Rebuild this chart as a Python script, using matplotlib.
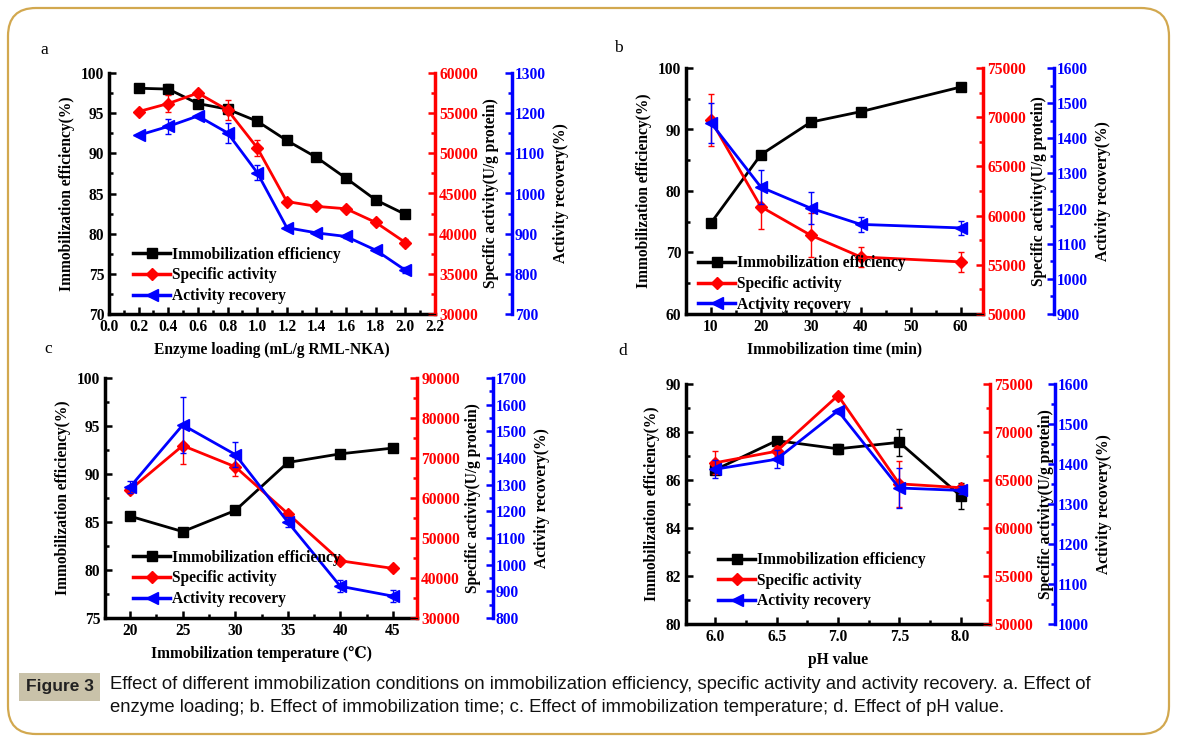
import numpy as np
import matplotlib
matplotlib.use("Agg")
import matplotlib.pyplot as plt
from matplotlib.patches import FancyBboxPatch
from matplotlib.lines import Line2D
from matplotlib.ticker import MultipleLocator

plt.rcParams['font.family'] = ['Liberation Serif', 'DejaVu Serif']
plt.rcParams['font.weight'] = 'bold'
plt.rcParams['axes.labelweight'] = 'bold'

# ---- data ----
# a: enzyme loading
xa = [0.2, 0.4, 0.6, 0.8, 1.0, 1.2, 1.4, 1.6, 1.8, 2.0]
ie_a = [98.1, 98.0, 96.2, 95.5, 94.0, 91.6, 89.5, 86.9, 84.2, 82.4]
ie_a_err = [0.2, 0.6, 0.2, 0.3, 0.4, 0.2, 0.2, 0.2, 0.2, 0.2]
sa_a = [55200, 56200, 57500, 55400, 50700, 44000, 43400, 43100, 41400, 38900]
sa_a_err = [200, 1000, 200, 1200, 1000, 200, 200, 200, 200, 400]
ar_a = [1145, 1167, 1193, 1151, 1052, 915, 902, 893, 859, 809]
ar_a_err = [3, 18, 3, 25, 18, 3, 3, 3, 3, 8]

# b: immobilization time
xb = [10, 20, 30, 40, 60]
ie_b = [74.8, 85.9, 91.2, 92.9, 96.9]
ie_b_err = [0.2, 0.5, 0.2, 0.2, 0.2]
sa_b = [69700, 60900, 58000, 55800, 55300]
sa_b_err = [2650, 2300, 2250, 1000, 1000]
ar_b = [1444, 1261, 1201, 1155, 1145]
ar_b_err = [56, 49, 46, 22, 21]

# c: immobilization temperature
xc = [20, 25, 30, 35, 40, 45]
ie_c = [85.6, 84.0, 86.2, 91.2, 92.1, 92.7]
ie_c_err = [0.1, 0.3, 0.2, 0.1, 0.1, 0.1]
sa_c = [62100, 73100, 67800, 56100, 44300, 42400]
sa_c_err = [800, 4700, 2400, 700, 800, 600]
ar_c = [1292, 1524, 1413, 1160, 919, 882]
ar_c_err = [22, 104, 47, 20, 22, 22]

# d: pH value
xd = [6.0, 6.5, 7.0, 7.5, 8.0]
ie_d = [86.43, 87.64, 87.30, 87.57, 85.34]
ie_d_err = [0.05, 0.05, 0.2, 0.55, 0.55]
sa_d = [66800, 68000, 73800, 64600, 64200]
sa_d_err = [1200, 500, 200, 2400, 300]
ar_d = [1387, 1412, 1533, 1340, 1334]
ar_d_err = [23, 23, 5, 49, 10]

series_labels = ['Immobilization efficiency', 'Specific activity', 'Activity recovery']
caption = ("Effect of different immobilization conditions on immobilization efficiency, specific activity and activity recovery. a. Effect of\n"
           "enzyme loading; b. Effect of immobilization time; c. Effect of immobilization temperature; d. Effect of pH value.")

FS = 11.2
W, H = 1177, 742
fig = plt.figure(figsize=(W / 100, H / 100), dpi=100)


def style_axis(ax, color, side):
    ax.tick_params(axis='y', which='both', direction='in', colors=color, width=1.8,
                   labelsize=FS)
    ax.tick_params(axis='y', which='major', length=5)
    ax.tick_params(axis='y', which='minor', length=3)
    for lab in ax.get_yticklabels():
        lab.set_fontweight('bold')
    ax.spines[side].set_color(color)
    ax.spines[side].set_linewidth(2.5)


def panel(rect, x, ie, ie_err, sa, sa_err, ar, ar_err, xlim, xmaj, xmin,
          ylim1, y1maj, y1min, ylim2, y2maj, y2min, ylim3, y3maj, y3min,
          xlabel, blue_off, letter, letter_xy, legend_anchor):
    ax = fig.add_axes(rect)
    ax2 = ax.twinx()
    ax3 = ax.twinx()
    ax3.spines['right'].set_position(('axes', blue_off))
    for a in (ax2, ax3):
        a.spines['left'].set_visible(False)
        a.spines['top'].set_visible(False)
    for s in ('top', 'right'):
        ax.spines[s].set_visible(False)
    for s in ('left', 'bottom'):
        ax.spines[s].set_linewidth(2.5)

    ax.errorbar(x, ie, yerr=ie_err, color='black', marker='s', ms=6.5, lw=2,
                elinewidth=1, capsize=2.5, capthick=1)
    ax2.errorbar(x, sa, yerr=sa_err, color='red', marker='D', ms=6.5, lw=2,
                 elinewidth=1, capsize=2.5, capthick=1)
    ax3.errorbar(x, ar, yerr=ar_err, color='blue', marker='<', ms=8, lw=2,
                 elinewidth=1, capsize=2.5, capthick=1)

    ax.set_xlim(*xlim)
    ax.xaxis.set_major_locator(MultipleLocator(xmaj))
    ax.xaxis.set_minor_locator(MultipleLocator(xmin))
    ax.set_ylim(*ylim1)
    ax.yaxis.set_major_locator(MultipleLocator(y1maj))
    ax.yaxis.set_minor_locator(MultipleLocator(y1min))
    ax2.set_ylim(*ylim2)
    ax2.yaxis.set_major_locator(MultipleLocator(y2maj))
    ax2.yaxis.set_minor_locator(MultipleLocator(y2min))
    ax3.set_ylim(*ylim3)
    ax3.yaxis.set_major_locator(MultipleLocator(y3maj))
    ax3.yaxis.set_minor_locator(MultipleLocator(y3min))

    ax.tick_params(axis='x', which='both', direction='in', width=1.8, labelsize=FS)
    ax.tick_params(axis='x', which='major', length=5)
    ax.tick_params(axis='x', which='minor', length=3)
    fmt = '{:.1f}' if xmaj < 1 else '{:.0f}'
    ax.set_xticks(ax.get_xticks())
    ax.set_xticklabels([fmt.format(v) for v in ax.get_xticks()], fontweight='bold')
    ax.set_xlim(*xlim)
    style_axis(ax, 'black', 'left')
    style_axis(ax2, 'red', 'right')
    style_axis(ax3, 'blue', 'right')
    ax.tick_params(axis='y', labelcolor='black')
    ax2.tick_params(axis='y', labelcolor='red', pad=3)
    ax3.tick_params(axis='y', labelcolor='blue', pad=2)

    ax.set_xlabel(xlabel, fontsize=FS, fontweight='bold', labelpad=5)
    ax.set_ylabel('Immobilization efficiency(%)', fontsize=FS, fontweight='bold', labelpad=4)
    ax2.set_ylabel('Specific activity(U/g protein)', fontsize=FS, fontweight='bold',
                   color='black', labelpad=4)
    ax3.set_ylabel('Activity recovery(%)', fontsize=FS, fontweight='bold',
                   color='black', labelpad=5)

    handles = [Line2D([], [], color='black', marker='s', ms=6.5, lw=2.5),
               Line2D([], [], color='red', marker='D', ms=6.5, lw=2.5),
               Line2D([], [], color='blue', marker='<', ms=8, lw=2.5)]
    ax3.legend(handles, series_labels, loc='lower left',
               bbox_to_anchor=legend_anchor, frameon=False, handlelength=2.4,
               handletextpad=0.1, labelspacing=0.3, borderaxespad=0,
               prop={'size': FS, 'weight': 'bold'})
    fig.text(letter_xy[0] / W, 1 - letter_xy[1] / H, letter, fontsize=12.5,
             fontweight='normal', ha='left', va='center')
    return ax


panel([109 / W, 1 - 314 / H, 326 / W, 241 / H], xa, ie_a, ie_a_err, sa_a, sa_a_err,
      ar_a, ar_a_err, (0, 2.2), 0.2, 0.1, (70, 100), 5, 2.5, (30000, 60000), 5000, 2500,
      (700, 1300), 100, 50, 'Enzyme loading (mL/g RML-NKA)', 1.236, 'a', (40, 50),
      (0.055, 0.015))
panel([686 / W, 1 - 314 / H, 297 / W, 246 / H], xb, ie_b, ie_b_err, sa_b, sa_b_err,
      ar_b, ar_b_err, (5, 64.5), 10, 5, (60, 100), 10, 5, (50000, 75000), 5000, 2500,
      (900, 1600), 100, 50, 'Immobilization time (min)', 1.239, 'b', (614, 48),
      (0.02, -0.02))
panel([105 / W, 1 - 618 / H, 312 / W, 240 / H], xc, ie_c, ie_c_err, sa_c, sa_c_err,
      ar_c, ar_c_err, (17.6, 47.3), 5, 2.5, (75, 100), 5, 2.5, (30000, 90000), 10000, 5000,
      (800, 1700), 100, 50, 'Immobilization temperature (\u2103)', 1.244, 'c', (44, 349),
      (0.07, 0.02))
panel([686 / W, 1 - 624 / H, 304 / W, 240 / H], xd, ie_d, ie_d_err, sa_d, sa_d_err,
      ar_d, ar_d_err, (5.76, 8.24), 0.5, 0.25, (80, 90), 2, 1, (50000, 75000), 5000, 2500,
      (1000, 1600), 100, 50, 'pH value', 1.214, 'd', (618, 351),
      (0.085, 0.035))

# outer rounded frame
frame = FancyBboxPatch((0.08, 0.08), (W - 16) / 100, (H - 16) / 100,
                       boxstyle='round,pad=0,rounding_size=0.28',
                       transform=fig.dpi_scale_trans, fill=False,
                       edgecolor='#d2a84f', linewidth=1.6, zorder=-5)
fig.patches.append(frame)

# caption
fig.text(59.5 / W, 1 - 687 / H, 'Figure 3', fontsize=12.5, fontweight='bold',
         family=['Liberation Sans', 'DejaVu Sans'],
         color='#222222', ha='center', va='center',
         bbox=dict(boxstyle='square,pad=0.38', facecolor='#c9c2a9', edgecolor='none'))
cap = fig.text(110 / W, 1 - 696 / H, caption, fontsize=12.5, fontweight='normal',
               family=['Liberation Sans', 'DejaVu Sans'],
               color='#111111', ha='left', va='center', linespacing=1.5)
fig.canvas.draw()
bb = cap.get_window_extent()
cap.set_fontsize(12.5 * 987 / bb.width)

fig.savefig('out.png', dpi=100)
